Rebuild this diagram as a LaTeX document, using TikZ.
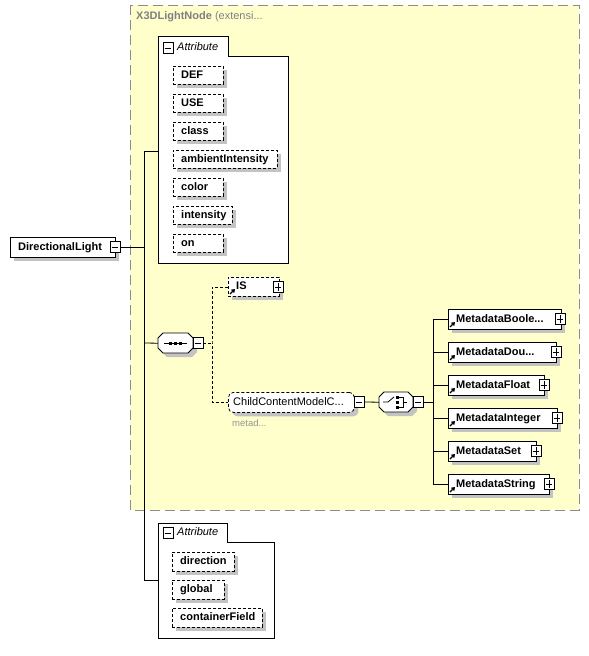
\documentclass[tikz,border=0pt]{standalone}
\usepackage{fontspec}
\setmainfont{Liberation Sans}
\usetikzlibrary{shadows,arrows.meta}
\definecolor{yel}{RGB}{255,255,204}
\definecolor{dashgray}{RGB}{140,140,140}
\definecolor{shad}{RGB}{195,195,195}
\definecolor{ttl}{RGB}{128,128,128}
\definecolor{mgray}{RGB}{150,150,150}
\tikzset{
  txt/.style={inner sep=0pt, text height=8pt, text depth=2pt, font=\fontsize{11}{12}\selectfont\bfseries},
  ntxt/.style={inner sep=0pt, text height=8pt, text depth=2pt, font=\fontsize{11}{12}\selectfont},
  shbox/.style={draw=black, fill=white, line width=0.8pt, inner sep=0pt,
     drop shadow={shadow xshift=4pt, shadow yshift=-4pt, fill=shad, opacity=1}},
  optbox/.style={shbox, dash pattern=on 3pt off 2pt},
  ccbox/.style={optbox, rounded corners=5pt},
  conn/.style={line width=0.8pt},
  dconn/.style={line width=0.8pt, dash pattern=on 3pt off 2pt},
  cont/.style={draw=black, fill=white, line width=0.8pt},
  refarrow/.style={line width=1.2pt, -{Triangle[length=3.5pt,width=4.5pt]}}
}
% box: name, x, y, w, h, style, text
\newcommand\bx[7]{%
  \node[#6, minimum width=#4pt, minimum height=#5pt, anchor=north west] (#1) at (#2,#3) {};
  \node[txt, anchor=west] (#1-t) at ([xshift=8pt]#1.west) {#7};}
% plus/minus sign: name, x, y, plus?
\newcommand\sgn[4]{%
  \node[draw=black, fill=white, minimum width=10pt, minimum height=11pt, inner sep=0pt, line width=0.8pt] (#1) at (#2,#3) {};
  \draw[line width=0.8pt] ([xshift=2pt]#1.west) -- ([xshift=-2pt]#1.east);
  \ifnum#4=1 \draw[line width=0.8pt] ([yshift=-2pt]#1.north) -- ([yshift=2pt]#1.south);\fi}
% octagon: name, x, y, w, h
\newcommand\octo[5]{%
  \node[minimum width=#4pt, minimum height=#5pt, anchor=north west, inner sep=0pt] (#1) at (#2,#3) {};
  \fill[shad, shift={(4,4)}] (#2+5,#3) -- (#2+#4-5,#3) -- (#2+#4,#3+5) -- (#2+#4,#3+#5-5) -- (#2+#4-5,#3+#5) -- (#2+5,#3+#5) -- (#2,#3+#5-5) -- (#2,#3+5) -- cycle;
  \draw[fill=white, line width=0.8pt] (#2+5,#3) -- (#2+#4-5,#3) -- (#2+#4,#3+5) -- (#2+#4,#3+#5-5) -- (#2+#4-5,#3+#5) -- (#2+5,#3+#5) -- (#2,#3+#5-5) -- (#2,#3+5) -- cycle;}
\newcommand\refar[2]{\draw[refarrow] (#1,#2) -- (#1+5,#2-5);}
\begin{document}
\begin{tikzpicture}[x=1pt,y=-1pt]
\useasboundingbox (0,0) rectangle (589,656);
% extension group
\draw[fill=yel, draw=dashgray, line width=1pt, dash pattern=on 10pt off 5pt] (130,5) rectangle (579,510);
\node[anchor=west, inner sep=0pt, text=ttl, font=\fontsize{11}{12}\selectfont] (title) at (136,17) {\bfseries X3DLightNode\mdseries\ (extensi...};

% attribute container 1
\draw[cont] (158,36) -- (228,36) -- (228,56) -- (288,56) -- (288,263) -- (158,263) -- cycle;
\sgn{a1m}{168}{48}{0}
\node[anchor=west, inner sep=0pt, font=\fontsize{11}{12}\selectfont\itshape] (a1t) at (177,47) {Attribute};
\coordinate (a1w) at (158,151);
\bx{def}{173}{66}{50}{18}{optbox}{DEF}
\bx{use}{173}{94}{50}{18}{optbox}{USE}
\bx{class}{173}{122}{50}{18}{optbox}{class}
\bx{amb}{173}{150}{104}{18}{optbox}{ambientIntensity}
\bx{color}{173}{178}{50}{18}{optbox}{color}
\bx{int}{173}{206}{59}{18}{optbox}{intensity}
\bx{on}{173}{234}{50}{18}{optbox}{on}

% attribute container 2
\draw[cont] (158,523) -- (227,523) -- (227,542) -- (274,542) -- (274,638) -- (158,638) -- cycle;
\sgn{a2m}{168}{533}{0}
\node[anchor=west, inner sep=0pt, font=\fontsize{11}{12}\selectfont\itshape] (a2t) at (177,532) {Attribute};
\coordinate (a2w) at (158,580);
\bx{dir}{172}{552}{62}{19}{optbox}{direction}
\bx{glob}{172}{580}{52}{19}{optbox}{global}
\bx{cf}{172}{608}{90}{19}{optbox}{containerField}

% root element
\bx{dl}{10}{237}{105}{20}{shbox}{DirectionalLight}
\sgn{dlm}{115}{247}{0}

% trunk
\coordinate (jt) at (144,151);
\coordinate (jm) at (144,247);
\coordinate (js) at (144,343);
\coordinate (jb) at (144,580);
\draw[conn] (dlm.east) -- (jm);
\draw[conn] (jt) -- (jb);
\draw[conn] (jt) -- (a1w);
\draw[conn] (jb) -- (a2w);

% sequence
\octo{seq}{158}{333}{35}{20}
\draw[conn] (164,343) -- (187,343);
\fill (168.5,341.5) rectangle +(3,3);
\fill (173.5,341.5) rectangle +(3,3);
\fill (178.5,341.5) rectangle +(3,3);
\sgn{seqm}{198}{343}{0}
\draw[conn] (js) -- (seq.west);

% IS and ChildContentModel
\bx{is}{228}{277}{51}{19}{optbox}{IS}
\sgn{ism}{278}{287}{1}
\refar{230}{294}
\node[ccbox, minimum width=126pt, minimum height=20pt, anchor=north west] (cc) at (228,392) {};
\node[ntxt, anchor=west] (cc-t) at ([xshift=5pt]cc.west) {ChildContentModelC...};
\sgn{ccm}{359}{402}{0}
\node[anchor=west, inner sep=0pt, text=mgray, font=\fontsize{9.5}{11}\selectfont] (metad) at (232,423) {metad...};

\coordinate (dj) at (212,343);
\draw[dconn] (seqm.east) -- (dj);
\draw[dconn] (is.west) -| (dj) |- (cc.west);

% choice
\octo{cho}{379}{392}{34}{20}
\draw[conn] (383,402) -- (388,402) -- (394,397);
\fill (395.5,395.5) rectangle +(3,3);
\fill (395.5,400.5) rectangle +(3,3);
\fill (395.5,405.5) rectangle +(3,3);
\draw[conn] (399,397) -- (403,397) -- (403,407) -- (399,407);
\draw[conn] (403,402) -- (407,402);
\sgn{chom}{418}{402}{0}
\draw[conn] (ccm.east) -- (cho.west);
\coordinate (cj) at (433,402);
\draw[conn] (chom.east) -- (cj);

% metadata elements
\bx{mb}{448}{309}{113}{20}{shbox}{MetadataBoole...}
\sgn{mbp}{560}{319}{1}
\refar{450}{327}
\bx{md}{448}{342}{108}{20}{shbox}{MetadataDou...}
\sgn{mdp}{556}{352}{1}
\refar{450}{360}
\bx{mf}{448}{375}{96}{20}{shbox}{MetadataFloat}
\sgn{mfp}{544}{385}{1}
\refar{450}{393}
\bx{mi}{448}{408}{109}{20}{shbox}{MetadataInteger}
\sgn{mip}{557}{418}{1}
\refar{450}{426}
\bx{ms}{448}{441}{88}{20}{shbox}{MetadataSet}
\sgn{msp}{536}{451}{1}
\refar{450}{459}
\bx{mst}{448}{474}{101}{20}{shbox}{MetadataString}
\sgn{mstp}{549}{484}{1}
\refar{450}{492}

\draw[conn] (mb.west -| cj) -- (mst.west -| cj);
\foreach \m in {mb,md,mf,mi,ms,mst} \draw[conn] (\m.west -| cj) -- (\m.west);
\end{tikzpicture}
\end{document}
